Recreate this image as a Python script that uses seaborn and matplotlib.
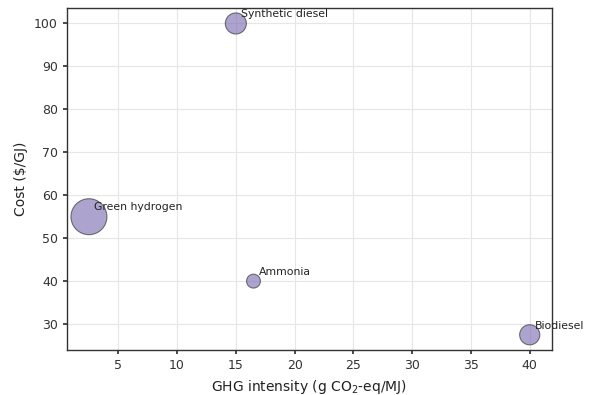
import matplotlib
matplotlib.use("Agg")
import matplotlib.pyplot as plt
import seaborn as sns
import pandas as pd

fuels = ["Green hydrogen", "Synthetic diesel", "Ammonia", "Biodiesel"]
ghg = [2.5, 15.0, 16.5, 40.0]
cost = [55.0, 100.0, 40.0, 27.5]
bubble = [670, 230, 100, 210]

df = pd.DataFrame({"fuel": fuels, "ghg": ghg, "cost": cost, "bubble": bubble})

sns.set_theme(style="whitegrid")
plt.rcParams["font.family"] = ["DejaVu Sans"]

fig, ax = plt.subplots(figsize=(5.92, 3.95), dpi=100)
sns.scatterplot(data=df, x="ghg", y="cost", size="fuel",
                sizes=dict(zip(fuels, bubble)), color="#8272b6", alpha=0.65,
                edgecolor="#333333", linewidth=0.8, legend=False, ax=ax)
for f, x, y in zip(fuels, ghg, cost):
    ax.annotate(f, (x, y), xytext=(4, 4.5), textcoords="offset points",
                fontsize=7.8, color="#222222")

ax.set_xlabel("GHG intensity (g CO$_2$-eq/MJ)", fontsize=10, color="#222222")
ax.set_ylabel("Cost ($/GJ)", fontsize=10, color="#222222")
ax.set_xticks([5, 10, 15, 20, 25, 30, 35, 40])
ax.set_yticks([30, 40, 50, 60, 70, 80, 90, 100])
ax.tick_params(labelsize=9, colors="#333333", length=3, bottom=True, left=True)
ax.grid(True, color="#e6e6e6", linewidth=0.8)
for s in ax.spines.values():
    s.set_color("#333333")
    s.set_linewidth(1.0)
ax.set_facecolor("white")
fig.subplots_adjust(left=0.113, right=0.932, top=0.98, bottom=0.113)
fig.savefig("out.png", dpi=100)
